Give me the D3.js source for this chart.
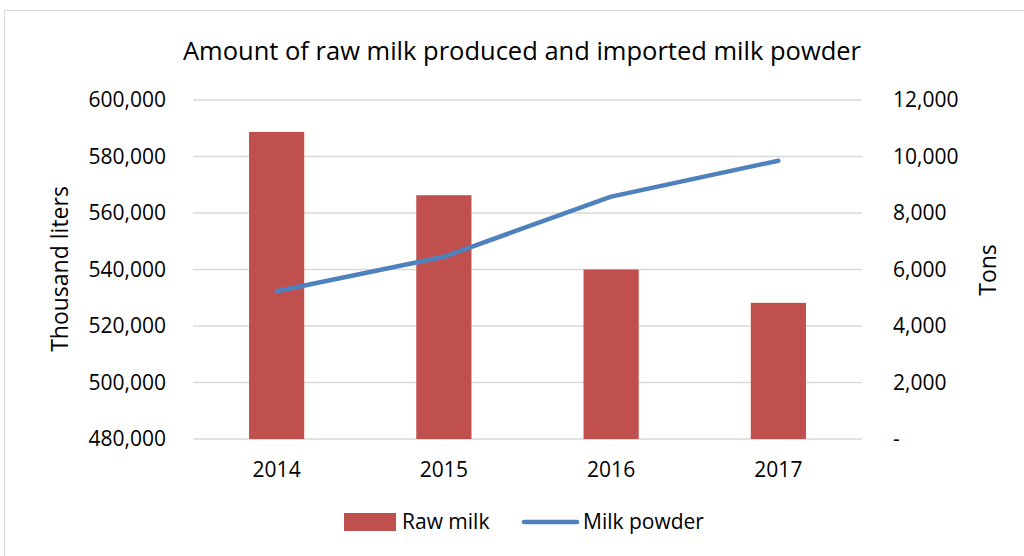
<!DOCTYPE html>
<html>
<head>
<meta charset="utf-8">
<script src="https://cdn.jsdelivr.net/npm/d3@7"></script>
<style>
  body { margin: 0; background: #fff; }
  svg text { font-family: "Open Sans", "Noto Sans", sans-serif; fill: #000; }
</style>
</head>
<body>
<div class="chartdiv"></div>
<script>
//data
var years = ["2014", "2015", "2016", "2017"];
var rawMilk = [588700, 566300, 540000, 528200];     //thousand liters
var milkPowder = [5230, 6450, 8580, 9850];          //tons
var leftTicks = [480000, 500000, 520000, 540000, 560000, 580000, 600000];
var rightTicks = [0, 2000, 4000, 6000, 8000, 10000, 12000];

var width = 1024, height = 556;
var plot = {left: 193, right: 862, top: 100, bottom: 439};

var svg = d3.select("div.chartdiv")
    .append("svg")
    .attr("width", width)
    .attr("height", height);

//outer chart border
svg.append("rect")
    .attr("x", 4.5).attr("y", 10.5)
    .attr("width", 1030).attr("height", 560)
    .style("fill", "none")
    .style("stroke", "#d9d9d9")
    .style("stroke-width", 1);

//scales
var x = d3.scaleBand()
    .domain(years)
    .range([plot.left, plot.right])
    .paddingInner(0.67)
    .paddingOuter(0.335);

var xc = d3.scaleBand().domain(years).range([plot.left, plot.right]);

var yLeft = d3.scaleLinear()
    .domain([480000, 600000])
    .range([plot.bottom, plot.top]);

var yRight = d3.scaleLinear()
    .domain([0, 12000])
    .range([plot.bottom, plot.top]);

//gridlines
svg.selectAll(".grid")
    .data(leftTicks)
    .enter()
    .append("line")
    .attr("class", "grid")
    .attr("x1", plot.left).attr("x2", plot.right)
    .attr("y1", function(d){ return yLeft(d); })
    .attr("y2", function(d){ return yLeft(d); })
    .style("stroke", "#d9d9d9")
    .style("stroke-width", 1.3);

//left axis labels
var fmt = d3.format(",");
svg.selectAll(".ltick")
    .data(leftTicks)
    .enter()
    .append("text")
    .attr("class", "ltick")
    .attr("x", 166)
    .attr("y", function(d){ return yLeft(d); })
    .attr("dy", "0.35em")
    .attr("text-anchor", "end")
    .style("font-size", "21px")
    .text(function(d){ return fmt(d); });

//right axis labels
svg.selectAll(".rtick")
    .data(rightTicks)
    .enter()
    .append("text")
    .attr("class", "rtick")
    .attr("x", 893)
    .attr("y", function(d){ return yRight(d); })
    .attr("dy", "0.35em")
    .attr("text-anchor", "start")
    .style("font-size", "21px")
    .text(function(d){ return d === 0 ? "-" : fmt(d); });

//x axis labels
svg.selectAll(".xtick")
    .data(years)
    .enter()
    .append("text")
    .attr("class", "xtick")
    .attr("x", function(d){ return xc(d) + xc.bandwidth() / 2; })
    .attr("y", 470)
    .attr("dy", "0.35em")
    .attr("text-anchor", "middle")
    .style("font-size", "21px")
    .text(function(d){ return d; });

//bars
svg.selectAll(".bar")
    .data(rawMilk)
    .enter()
    .append("rect")
    .attr("class", "bar")
    .attr("x", function(d, i){ return x(years[i]); })
    .attr("width", x.bandwidth())
    .attr("y", function(d){ return yLeft(d); })
    .attr("height", function(d){ return plot.bottom - yLeft(d); })
    .style("fill", "#c0504d");

//line
var line = d3.line()
    .x(function(d, i){ return xc(years[i]) + xc.bandwidth() / 2; })
    .y(function(d){ return yRight(d); });

svg.append("path")
    .datum(milkPowder)
    .attr("d", line)
    .style("fill", "none")
    .style("stroke", "#4f81bd")
    .style("stroke-width", 4.5)
    .style("stroke-linecap", "round")
    .style("stroke-linejoin", "round");

//title
svg.append("text")
    .attr("x", 522)
    .attr("y", 51)
    .attr("dy", "0.35em")
    .attr("text-anchor", "middle")
    .style("font-size", "25.5px")
    .text("Amount of raw milk produced and imported milk powder");

//axis titles
svg.append("text")
    .attr("transform", "translate(60,269) rotate(-90)")
    .attr("dy", "0.35em")
    .attr("text-anchor", "middle")
    .style("font-size", "23px")
    .text("Thousand liters");

svg.append("text")
    .attr("transform", "translate(988,270) rotate(-90)")
    .attr("dy", "0.35em")
    .attr("text-anchor", "middle")
    .style("font-size", "23px")
    .text("Tons");

//legend
var legend = svg.append("g").attr("class", "legend");
legend.append("rect")
    .attr("x", 344).attr("y", 513)
    .attr("width", 52).attr("height", 18)
    .style("fill", "#c0504d");
legend.append("text")
    .attr("x", 402).attr("y", 522)
    .attr("dy", "0.35em")
    .style("font-size", "21px")
    .text("Raw milk");
legend.append("line")
    .attr("x1", 524).attr("x2", 577)
    .attr("y1", 522).attr("y2", 522)
    .style("stroke", "#4f81bd")
    .style("stroke-width", 4.5)
    .style("stroke-linecap", "round");
legend.append("text")
    .attr("x", 583).attr("y", 522)
    .attr("dy", "0.35em")
    .style("font-size", "21px")
    .text("Milk powder");
</script>
</body>
</html>
